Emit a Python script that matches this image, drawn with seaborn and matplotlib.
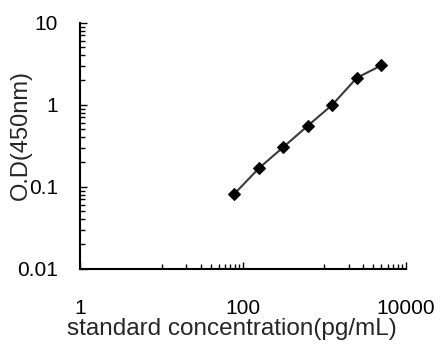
import matplotlib
matplotlib.use("Agg")
import matplotlib.pyplot as plt
import matplotlib.ticker as mticker
import seaborn as sns
import pandas as pd
import numpy as np

concentration = [78.125, 156.25, 312.5, 625, 1250, 2500, 5000]
od_450 = [0.082, 0.168, 0.305, 0.555, 1.0, 2.13, 3.02]
x_tick_labels = ["1", "100", "10000"]
y_tick_labels = ["0.01", "0.1", "1", "10"]

sns.set_style("ticks")
plt.rcParams['font.family'] = ['Liberation Sans', 'DejaVu Sans']

df = pd.DataFrame({"conc": concentration, "od": od_450})

fig = plt.figure(figsize=(4.44, 3.5), dpi=100)
ax = fig.add_axes([0.181, 0.232, 0.733, 0.703])

sns.lineplot(data=df, x="conc", y="od", ax=ax, color="#3a3a3a", linewidth=1.5,
             marker="D", markersize=6, markerfacecolor="black",
             markeredgecolor="black")

ax.set_xscale("log")
ax.set_yscale("log")
ax.set_xlim(1, 10000)
ax.set_ylim(0.01, 10)

ax.set_xticks([1, 100, 10000])
ax.set_xticklabels(x_tick_labels)
xminor = [10] + [k * 10 for k in range(2, 10)] + [1000] + [k * 1000 for k in range(2, 10)]
ax.set_xticks(xminor, minor=True)
ax.xaxis.set_minor_formatter(mticker.NullFormatter())

ax.set_yticks([0.01, 0.1, 1, 10])
ax.set_yticklabels(y_tick_labels)
yminor = [m * d for d in [0.01, 0.1, 1] for m in range(2, 10)]
ax.set_yticks(yminor, minor=True)
ax.yaxis.set_minor_formatter(mticker.NullFormatter())

ax.tick_params(axis="both", which="both", direction="in", colors="black",
               width=1.0, labelsize=15)
ax.tick_params(axis="both", which="major", length=5)
ax.tick_params(axis="both", which="minor", length=3.5)
ax.tick_params(axis="x", which="both", pad=22)
ax.tick_params(axis="y", which="both", pad=16)

for s in ["top", "right"]:
    ax.spines[s].set_visible(False)
for s in ["left", "bottom"]:
    ax.spines[s].set_color("black")
    ax.spines[s].set_linewidth(1.5)

ax.set_xlabel("standard concentration(pg/mL)", fontsize=17.5)
ax.xaxis.set_label_coords(0.466, -0.2)
ax.set_ylabel("O.D(450nm)", fontsize=17)
ax.yaxis.set_label_coords(-0.148, 0.543)

fig.savefig("out.png", dpi=100)
